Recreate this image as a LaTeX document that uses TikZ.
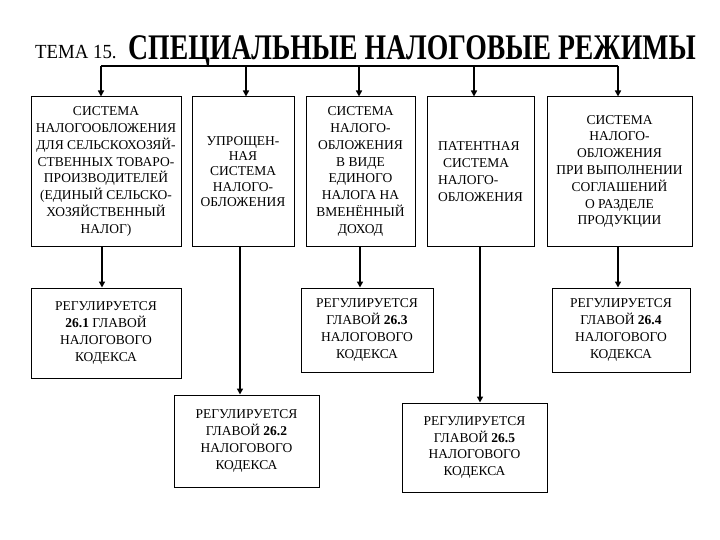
\documentclass[tikz,border=0pt]{standalone}
\usepackage{fontspec}
\setmainfont{Liberation Serif}
\usetikzlibrary{arrows.meta}
\begin{document}
\begin{tikzpicture}[x=1pt,y=-1pt,
  box/.style={draw, line width=1pt, align=center, inner sep=0pt,
    font=\fontsize{13.5}{16.8}\selectfont},
  boxtight/.style={box, font=\fontsize{13.5}{15.4}\selectfont},
  conn/.style={line width=1.6pt},
  arr/.style={line width=1.6pt, -{Triangle[length=6pt,width=6pt]}}]
\useasboundingbox[fill=white] (0,0) rectangle (720,540);

% title
\node[anchor=base west, inner sep=0pt] (tema) at (35,59)
  {\scalebox{0.94}[1]{\fontsize{20}{20}\selectfont ТЕМА 15.}};
\node[anchor=base west, inner sep=0pt] (title) at (128,60)
  {\scalebox{0.77}[1]{\fontsize{36}{36}\selectfont\bfseries СПЕЦИАЛЬНЫЕ НАЛОГОВЫЕ РЕЖИМЫ}};

% top row
\node[box, minimum width=150pt, minimum height=149pt] (b1) at (106,171.5)
  {СИСТЕМА\\НАЛОГООБЛОЖЕНИЯ\\ДЛЯ СЕЛЬСКОХОЗЯЙ-\\СТВЕННЫХ ТОВАРО-\\ПРОИЗВОДИТЕЛЕЙ\\(ЕДИНЫЙ СЕЛЬСКО-\\ХОЗЯЙСТВЕННЫЙ\\НАЛОГ)};
\node[boxtight, minimum width=102pt, minimum height=149pt] (b2) at (243,171.5)
  {УПРОЩЕН-\\НАЯ\\СИСТЕМА\\НАЛОГО-\\ОБЛОЖЕНИЯ};
\node[box, minimum width=109pt, minimum height=149pt] (b3) at (360.5,171.5)
  {СИСТЕМА\\НАЛОГО-\\ОБЛОЖЕНИЯ\\В ВИДЕ\\ЕДИНОГО\\НАЛОГА НА\\ВМЕНЁННЫЙ\\ДОХОД};
\node[box, align=left, minimum width=107pt, minimum height=149pt] (b4) at (480.5,171.5)
  {ПАТЕНТНАЯ\\\hspace*{5pt}СИСТЕМА\\НАЛОГО-\\ОБЛОЖЕНИЯ};
\node[box, minimum width=145pt, minimum height=149pt] (b5) at (619.5,171.5)
  {СИСТЕМА\\НАЛОГО-\\ОБЛОЖЕНИЯ\\ПРИ ВЫПОЛНЕНИИ\\СОГЛАШЕНИЙ\\О РАЗДЕЛЕ\\ПРОДУКЦИИ};

% lower boxes
\node[box, minimum width=150pt, minimum height=90pt] (l1) at (106,333)
  {РЕГУЛИРУЕТСЯ\\\textbf{26.1} ГЛАВОЙ\\НАЛОГОВОГО\\КОДЕКСА};
\node[box, minimum width=145pt, minimum height=92pt] (l2) at (246.5,441)
  {РЕГУЛИРУЕТСЯ\\ГЛАВОЙ \textbf{26.2}\\НАЛОГОВОГО\\КОДЕКСА};
\node[box, minimum width=132pt, minimum height=84pt] (l3) at (367,330)
  {РЕГУЛИРУЕТСЯ\\ГЛАВОЙ \textbf{26.3}\\НАЛОГОВОГО\\КОДЕКСА};
\node[box, minimum width=145pt, minimum height=89pt] (l4) at (474.5,447.5)
  {РЕГУЛИРУЕТСЯ\\ГЛАВОЙ \textbf{26.5}\\НАЛОГОВОГО\\КОДЕКСА};
\node[box, minimum width=138pt, minimum height=84pt] (l5) at (621,330)
  {РЕГУЛИРУЕТСЯ\\ГЛАВОЙ \textbf{26.4}\\НАЛОГОВОГО\\КОДЕКСА};

% connectors
\coordinate (h1) at (101,66);
\coordinate (h2) at (246,66);
\coordinate (h3) at (359,66);
\coordinate (h4) at (474,66);
\coordinate (h5) at (618,66);
\draw[conn] (h1) -- (h5);
\draw[arr] (h1) -- (h1 |- b1.north);
\draw[arr] (h2) -- (h2 |- b2.north);
\draw[arr] (h3) -- (h3 |- b3.north);
\draw[arr] (h4) -- (h4 |- b4.north);
\draw[arr] (h5) -- (h5 |- b5.north);

\coordinate (v1) at (102,0);
\coordinate (v2) at (240,0);
\coordinate (v3) at (360,0);
\coordinate (v4) at (480,0);
\coordinate (v5) at (618,0);
\draw[arr] (v1 |- b1.south) -- (v1 |- l1.north);
\draw[arr] (v2 |- b2.south) -- (v2 |- l2.north);
\draw[arr] (v3 |- b3.south) -- (v3 |- l3.north);
\draw[arr] (v4 |- b4.south) -- (v4 |- l4.north);
\draw[arr] (v5 |- b5.south) -- (v5 |- l5.north);
\end{tikzpicture}
\end{document}
